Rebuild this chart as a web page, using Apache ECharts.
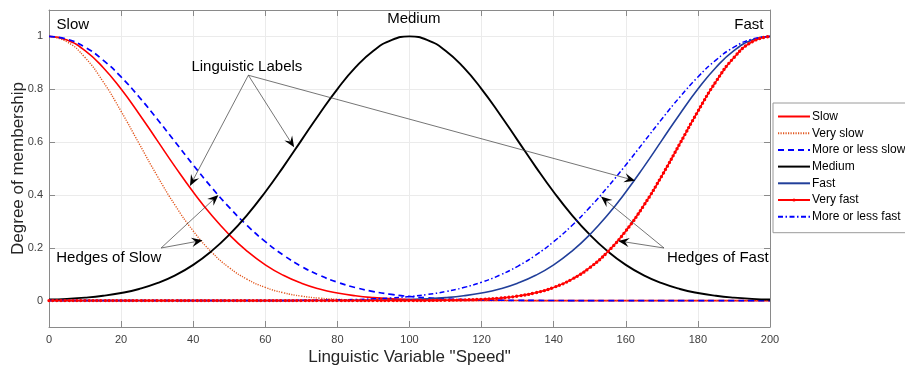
<!DOCTYPE html>
<html>
<head>
<meta charset="utf-8">
<script src="https://cdn.jsdelivr.net/npm/echarts@6/dist/echarts.min.js"></script>
<style>
  html, body { margin: 0; padding: 0; background: #fff; }
  #chart { width: 905px; height: 370px; }
</style>
</head>
<body>
<div id="chart"></div>
<script>
// Speed axis samples (every 5 units)
const speed = [0, 5, 10, 15, 20, 25, 30, 35, 40, 45, 50, 55, 60, 65, 70, 75, 80, 85, 90, 95,
  100, 105, 110, 115, 120, 125, 130, 135, 140, 145, 150, 155, 160, 165, 170, 175, 180, 185, 190, 195, 200];

// Membership degrees
const slow = [1, 0.9862, 0.9460, 0.8825, 0.8007, 0.7066, 0.6065, 0.5063, 0.4111, 0.3247, 0.2494,
  0.1863, 0.1353, 0.0956, 0.0657, 0.0439, 0.0286, 0.0181, 0.0111, 0.0066, 0.0039, 0.0022, 0.0012,
  0.0006, 0.0003, 0.0002, 0.0001, 0, 0, 0, 0, 0, 0, 0, 0, 0, 0, 0, 0, 0, 0];
const verySlow = [1, 0.9794, 0.9200, 0.8290, 0.7165, 0.5941, 0.4724, 0.3603, 0.2636, 0.1850, 0.1245,
  0.0804, 0.0498, 0.0296, 0.0169, 0.0092, 0.0048, 0.0024, 0.0012, 0.0005, 0.0002,
  0, 0, 0, 0, 0, 0, 0, 0, 0, 0, 0, 0, 0, 0, 0, 0, 0, 0, 0, 0];
const moreOrLessSlow = [1, 0.9896, 0.9592, 0.9105, 0.8465, 0.7707, 0.6873, 0.6003, 0.5134, 0.4301,
  0.3528, 0.2835, 0.2231, 0.1720, 0.1298, 0.0960, 0.0695, 0.0493, 0.0342, 0.0233, 0.0155, 0.0101,
  0.0065, 0.0040, 0.0025, 0.0015, 0.0009, 0.0005, 0.0003, 0.0002, 0.0001, 0, 0, 0, 0, 0, 0, 0, 0, 0, 0];
const medium = [0.0039, 0.0066, 0.0111, 0.0181, 0.0286, 0.0439, 0.0657, 0.0956, 0.1353, 0.1863,
  0.2494, 0.3247, 0.4111, 0.5063, 0.6065, 0.7066, 0.8007, 0.8825, 0.9460, 0.9862, 1, 0.9862, 0.9460,
  0.8825, 0.8007, 0.7066, 0.6065, 0.5063, 0.4111, 0.3247, 0.2494, 0.1863, 0.1353, 0.0956, 0.0657,
  0.0439, 0.0286, 0.0181, 0.0111, 0.0066, 0.0039];
const fast = [0, 0, 0, 0, 0, 0, 0, 0, 0, 0, 0, 0, 0, 0, 0.0001, 0.0002, 0.0003, 0.0006, 0.0012,
  0.0022, 0.0039, 0.0066, 0.0111, 0.0181, 0.0286, 0.0439, 0.0657, 0.0956, 0.1353, 0.1863, 0.2494,
  0.3247, 0.4111, 0.5063, 0.6065, 0.7066, 0.8007, 0.8825, 0.9460, 0.9862, 1];
const veryFast = [0, 0, 0, 0, 0, 0, 0, 0, 0, 0, 0, 0, 0, 0, 0, 0, 0, 0, 0, 0, 0.0002, 0.0005,
  0.0012, 0.0024, 0.0048, 0.0092, 0.0169, 0.0296, 0.0498, 0.0804, 0.1245, 0.1850, 0.2636, 0.3603,
  0.4724, 0.5941, 0.7165, 0.8290, 0.9200, 0.9794, 1];
const moreOrLessFast = [0, 0, 0, 0, 0, 0, 0, 0, 0, 0, 0.0001, 0.0002, 0.0003, 0.0005, 0.0009,
  0.0015, 0.0025, 0.0040, 0.0065, 0.0101, 0.0155, 0.0233, 0.0342, 0.0493, 0.0695, 0.0960, 0.1298,
  0.1720, 0.2231, 0.2835, 0.3528, 0.4301, 0.5134, 0.6003, 0.6873, 0.7707, 0.8465, 0.9105, 0.9592,
  0.9896, 1];

const seriesNames = ['Slow', 'Very slow', 'More or less slow', 'Medium', 'Fast', 'Very fast', 'More or less fast'];
const yTicks = [0, 0.2, 0.4, 0.6, 0.8, 1];

// Text labels placed in data units
const labelTexts = [
  { text: 'Slow', at: [2.1, 1.044], align: 'left' },
  { text: 'Medium', at: [101.2, 1.066], align: 'center' },
  { text: 'Fast', at: [198.2, 1.044], align: 'right' },
  { text: 'Linguistic Labels', at: [39.5, 0.886], align: 'left' },
  { text: 'Hedges of Slow', at: [2.0, 0.162], align: 'left' },
  { text: 'Hedges of Fast', at: [171.4, 0.162], align: 'left' }
];
// Annotation arrows: [from, to] in data units
const arrows = [
  [[55.3, 0.853], [39.1, 0.434]],
  [[55.3, 0.853], [68.0, 0.580]],
  [[55.3, 0.853], [162.6, 0.454]],
  [[31.1, 0.199], [47.0, 0.400]],
  [[31.1, 0.199], [42.6, 0.228]],
  [[170.6, 0.199], [153.1, 0.394]],
  [[170.6, 0.199], [157.9, 0.226]]
];

const FONT = '"Liberation Sans", Arial, Helvetica, sans-serif';
const pairs = arr => speed.map((x, i) => [x, arr[i]]);

function lineSeries(name, data, style, extra) {
  return Object.assign({
    name: name,
    type: 'line',
    data: pairs(data),
    smooth: 0.5,
    symbol: 'none',
    lineStyle: style,
    itemStyle: { color: style.color },
    animation: false,
    z: 3
  }, extra || {});
}

const chart = echarts.init(document.getElementById('chart'), null, { renderer: 'canvas' });

const axisLineStyle = { show: true, onZero: false, lineStyle: { color: '#8a8a8a', width: 1 } };
const tickStyle = { show: true, inside: true, length: 6, lineStyle: { color: '#8a8a8a' } };

chart.setOption({
  animation: false,
  textStyle: { fontFamily: FONT },
  grid: { left: 49, right: 135, top: 10, bottom: 43, containLabel: false, outerBoundsMode: 'none' },
  xAxis: [
    {
      type: 'value', min: 0, max: 200, interval: 20, position: 'bottom',
      axisLine: axisLineStyle, axisTick: tickStyle,
      name: 'Linguistic Variable "Speed"', nameLocation: 'middle', nameGap: 22, nameMoveOverlap: false,
      nameTextStyle: { fontSize: 17, color: '#262626', fontFamily: FONT },
      axisLabel: { fontSize: 11, color: '#404040', margin: 7, fontFamily: FONT },
      splitLine: { show: true, lineStyle: { color: '#ebebeb', width: 1 } }
    },
    {
      type: 'value', min: 0, max: 200, interval: 20, position: 'top',
      axisLine: axisLineStyle, axisTick: tickStyle,
      axisLabel: { show: false }, splitLine: { show: false }
    }
  ],
  yAxis: [
    {
      type: 'value', min: -0.1, max: 1.1, position: 'left',
      axisLine: axisLineStyle,
      axisTick: Object.assign({}, tickStyle, { customValues: yTicks }),
      name: 'Degree of membership', nameLocation: 'middle', nameGap: 22, nameMoveOverlap: false,
      nameTextStyle: { fontSize: 17, color: '#262626', fontFamily: FONT },
      axisLabel: { fontSize: 11, color: '#404040', margin: 6, fontFamily: FONT, customValues: yTicks,
        formatter: v => String(Math.round(v * 10) / 10) },
      splitLine: { show: true, lineStyle: { color: '#ebebeb', width: 1 } }
    },
    {
      type: 'value', min: -0.1, max: 1.1, position: 'right',
      axisLine: axisLineStyle,
      axisTick: Object.assign({}, tickStyle, { customValues: yTicks }),
      axisLabel: { show: false }, splitLine: { show: false }
    }
  ],
  legend: {
    orient: 'vertical',
    left: 773,
    top: 103,
    data: seriesNames.map(n => n === 'Very fast'
      ? { name: n, itemStyle: { opacity: 1 } }
      : { name: n }),
    itemWidth: 32,
    itemHeight: 4,
    itemGap: 4.7,
    padding: [7.5, 4, 10, 4],
    backgroundColor: '#ffffff',
    borderColor: '#9a9a9a',
    borderWidth: 1,
    borderRadius: 0,
    textStyle: { fontSize: 12, color: '#000', fontFamily: FONT, padding: [0, 0, 0, -3] },
    itemStyle: { opacity: 0 },
    selectedMode: false
  },
  series: [
    lineSeries('Slow', slow, { color: '#ff0000', width: 1.6 }),
    lineSeries('Very slow', verySlow, { color: '#e2571e', width: 1.4, type: [1.2, 1.3] }),
    lineSeries('More or less slow', moreOrLessSlow, { color: '#0000ff', width: 1.7, type: [6, 4] }),
    lineSeries('Medium', medium, { color: '#000000', width: 1.9 }),
    lineSeries('Fast', fast, { color: '#213f9a', width: 1.6 }),
    lineSeries('Very fast', veryFast, { color: '#ff0000', width: 1.5 },
      { symbol: 'circle', showSymbol: false, itemStyle: { color: '#ff0000', opacity: 1 } }),
    // round dot markers riding along the "Very fast" curve
    lineSeries('', veryFast, { color: '#ff0000', width: 3.4, type: [0, 4], cap: 'round' }, { z: 4 }),
    lineSeries('More or less fast', moreOrLessFast, { color: '#0000ff', width: 1.5, type: [5, 2.5, 1.5, 2.5] })
  ]
});

function drawAnnotations() {
  const toPx = p => chart.convertToPixel({ gridIndex: 0 }, p);
  const elements = [];
  labelTexts.forEach(t => {
    const p = toPx(t.at);
    elements.push({
      type: 'text', x: p[0], y: p[1], z: 10,
      style: { text: t.text, fill: '#000', font: '15px ' + FONT, textAlign: t.align, textVerticalAlign: 'middle' }
    });
  });
  arrows.forEach(a => {
    const s = toPx(a[0]), e = toPx(a[1]);
    const dx = e[0] - s[0], dy = e[1] - s[1];
    const len = Math.sqrt(dx * dx + dy * dy);
    const ux = dx / len, uy = dy / len, nx = -uy, ny = ux;
    const L = 11, W = 4.6, N = 7;
    elements.push({
      type: 'line', z: 9,
      shape: { x1: s[0], y1: s[1], x2: e[0] - ux * N, y2: e[1] - uy * N },
      style: { stroke: '#3a3a3a', lineWidth: 0.7 }
    });
    elements.push({
      type: 'polygon', z: 9,
      shape: { points: [
        [e[0], e[1]],
        [e[0] - ux * L + nx * W, e[1] - uy * L + ny * W],
        [e[0] - ux * N, e[1] - uy * N],
        [e[0] - ux * L - nx * W, e[1] - uy * L - ny * W]
      ] },
      style: { fill: '#000' }
    });
  });
  chart.setOption({ graphic: elements });
}
drawAnnotations();
</script>
</body>
</html>
